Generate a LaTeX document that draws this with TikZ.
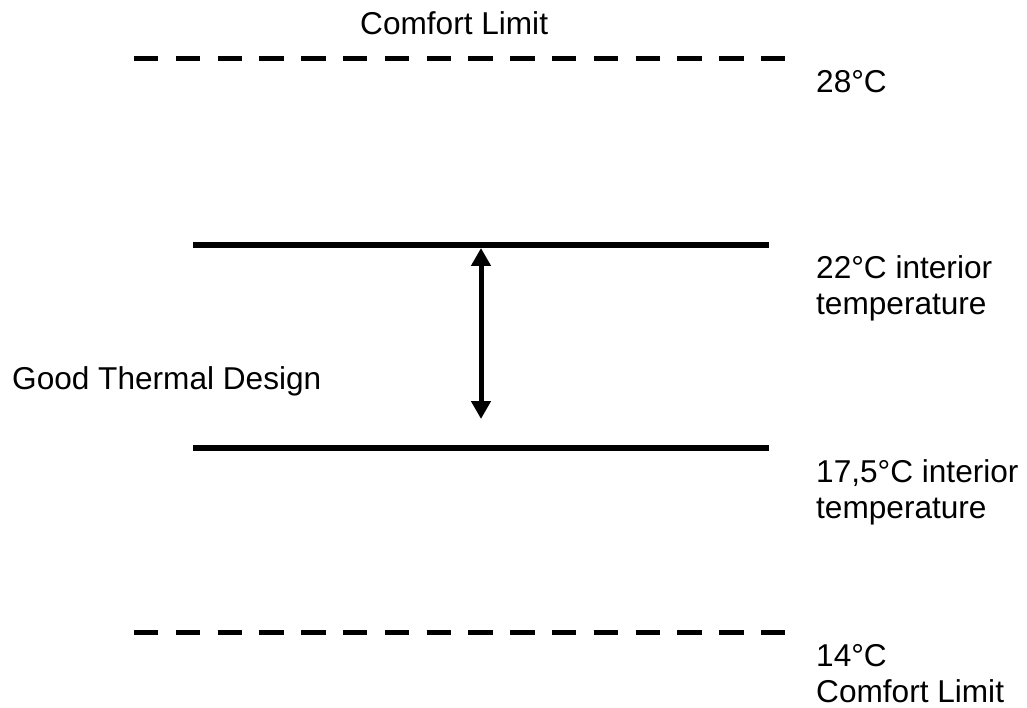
\documentclass[tikz,border=0pt]{standalone}
\usepackage{fontspec}
\setmainfont{Liberation Sans}
\usetikzlibrary{arrows.meta}
\begin{document}
\begin{tikzpicture}[x=1pt,y=-1pt,
  lbl/.style={font=\fontsize{31.6}{36}\selectfont, inner sep=0pt, anchor=base west, align=left},
  limitline/.style={line width=5pt, dash pattern=on 24.3pt off 17.5pt},
  levelline/.style={line width=5.5pt},
  rangearrow/.style={line width=5pt, {Triangle[width=19pt,length=18pt]}-{Triangle[width=19pt,length=18pt]}}]
\useasboundingbox (0,0) rectangle (1027,708);
% limit lines
\coordinate (ul) at (134,59);  \coordinate (ur) at (786,59);
\coordinate (ll) at (134,632); \coordinate (lr) at (786,632);
\draw[limitline] (ul) -- (ur);
\draw[limitline] (ll) -- (lr);
% interior lines
\coordinate (hl) at (193,245); \coordinate (hr) at (769,245);
\coordinate (cl) at (193,448); \coordinate (cr) at (769,448);
\draw[levelline] (hl) -- (hr);
\draw[levelline] (cl) -- (cr);
% arrow
\coordinate (at) at (481,248); \coordinate (ab) at (481,419);
\draw[rangearrow] (at) -- (ab);
% labels (base anchor = baseline of the last line)
\node[lbl] (toplimit) at (360,35) {Comfort Limit};
\node[lbl] (t28) at (816,93) {28°C};
\node[lbl] (t22) at (816,315) {22°C interior\\temperature};
\node[lbl] (t175) at (816,518) {17,5°C interior\\temperature};
\node[lbl] (t14) at (816,702) {14°C\\Comfort Limit};
\node[lbl] (good) at (12,389) {Good Thermal Design};
\end{tikzpicture}
\end{document}
